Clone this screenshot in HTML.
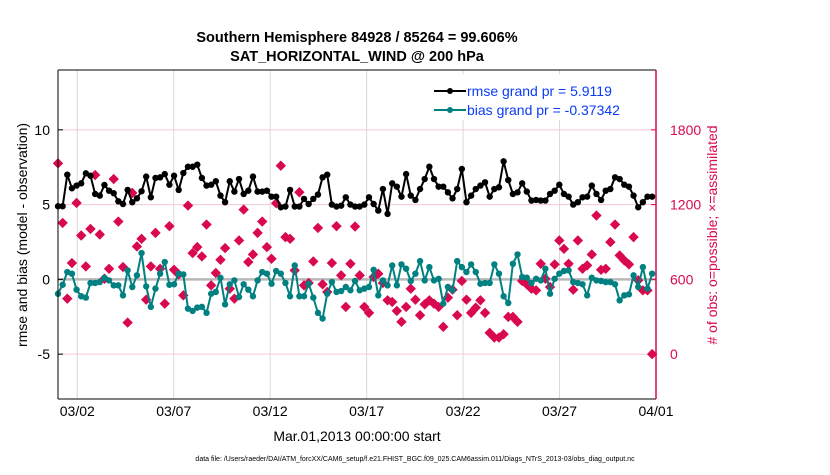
<!DOCTYPE html>
<html><head><meta charset="utf-8"><style>
body{margin:0;background:#fff;width:830px;height:470px;overflow:hidden}
svg{font-family:"Liberation Sans",sans-serif}
</style></head><body>
<svg id="chart" width="830" height="470">
<text x="357" y="42" text-anchor="middle" font-size="14.5" font-weight="bold">Southern Hemisphere 84928 / 85264 = 99.606%</text>
<text x="357" y="61" text-anchor="middle" font-size="14.5" font-weight="bold">SAT_HORIZONTAL_WIND @ 200 hPa</text>
<g id="grid"></g><g id="marks"></g><g id="axes"></g>
<text transform="translate(27,235) rotate(-90)" text-anchor="middle" font-size="14">rmse and bias (model - observation)</text>
<text transform="translate(717,235) rotate(-90)" text-anchor="middle" font-size="14" fill="#d9094f"># of obs: o=possible; ×=assimilated</text>
<text x="357" y="441" text-anchor="middle" font-size="14">Mar.01,2013 00:00:00 start</text>
<text x="415" y="461" text-anchor="middle" font-size="7">data file: /Users/raeder/DAI/ATM_forcXX/CAM6_setup/f.e21.FHIST_BGC.f09_025.CAM6assim.011/Diags_NTrS_2013-03/obs_diag_output.nc</text>
<g>
<rect x="430" y="74" width="222" height="46" fill="#fff"/>
<line x1="434" y1="91" x2="466" y2="91" stroke="#000" stroke-width="2"/><circle cx="450" cy="91" r="3" fill="#000"/>
<text x="467" y="96" font-size="14" fill="#0a3cf5">rmse grand pr = 5.9119</text>
<line x1="434" y1="110" x2="466" y2="110" stroke="#008080" stroke-width="2"/><circle cx="450" cy="110" r="3" fill="#008080"/>
<text x="467" y="115" font-size="14" fill="#0a3cf5">bias grand pr = -0.37342</text>
</g>
</svg>
<script>
const rmse=[4.89,4.89,7.0,6.09,6.27,6.42,7.09,6.93,5.71,5.6,6.31,5.93,5.76,5.22,5.04,5.98,5.16,5.42,5.89,6.87,5.49,6.78,6.82,7.04,6.33,6.93,5.98,7.11,7.53,7.53,7.67,6.78,6.27,6.33,6.56,5.6,5.16,6.56,5.87,6.71,5.71,5.93,6.87,5.87,5.87,5.93,5.53,5.53,4.82,4.87,5.98,4.87,4.87,5.38,5.04,5.38,5.67,6.82,7.0,5.0,4.87,4.93,5.49,
5.0,4.87,4.87,5.0,5.49,5.04,4.6,6.04,4.38,6.42,6.2,5.53,7.04,5.6,5.31,6.04,6.71,7.53,6.71,6.2,6.2,5.82,5.42,6.04,7.38,5.16,5.6,6.04,6.27,6.49,5.53,6.04,6.16,7.89,6.64,5.71,5.82,6.42,5.87,5.27,5.31,5.27,5.27,5.71,5.93,6.33,5.71,5.53,5.0,5.16,5.49,5.53,6.27,5.71,5.31,5.93,6.04,6.82,6.71,6.33,6.2,5.6,4.82,5.16,5.53,5.53];
const bias=[-0.96,-0.36,0.49,0.38,-0.69,-1.13,-1.22,-0.24,-0.24,-0.18,0.11,-0.07,-0.4,-0.4,-1.07,0.6,-0.51,0.27,1.76,-0.47,-1.84,-0.62,0.38,1.16,-0.36,-0.33,0.38,0.33,-1.96,-2.11,-1.89,-1.84,-2.24,-0.96,-0.84,0.11,-1.67,-0.33,-0.07,-1.18,-0.33,-0.69,-1.13,-0.07,0.49,0.38,-0.29,0.56,0.38,-0.24,-1.13,0.93,-1.13,-1.13,-0.29,-1.22,-2.24,-2.62,-0.96,-0.18,-0.84,-0.78,-0.51,
-0.73,-0.11,-0.73,-0.62,-0.51,0.64,-1.07,-0.07,-0.4,0.93,-0.4,1.0,0.71,-0.11,0.38,1.22,-0.07,0.82,-0.07,0.04,-1.62,-0.51,-0.73,1.22,0.82,0.49,1.0,0.49,-0.29,-0.24,-0.24,1.0,0.38,-1.13,-1.58,1.04,1.67,0.16,0.11,-0.24,0.04,-0.07,0.71,-0.96,0.04,0.38,0.56,0.6,-0.18,-0.24,-0.33,-1.07,0.11,-0.07,-0.11,-0.18,-0.18,-0.33,-1.4,-1.07,-1.0,0.27,-0.51,0.82,-0.62,0.38];
const obsCount=[1531,1053,445,731,1213,952,704,1005,1437,960,605,685,1405,1064,699,253,1293,864,925,437,704,973,685,405,1027,677,640,472,1192,811,859,784,1040,552,651,757,851,525,445,912,1160,739,800,973,1064,859,765,1211,1512,939,925,672,1299,552,571,744,1013,560,499,731,1027,632,379,
725,1024,632,379,331,619,645,571,432,419,347,259,379,525,437,312,400,432,405,379,219,453,517,312,587,437,331,373,432,331,171,133,133,160,299,299,259,587,560,525,512,725,605,539,720,912,845,725,517,912,685,712,800,1112,677,685,899,1040,792,752,720,939,592,512,512,0];
const xTickLabels=["03/02","03/07","03/12","03/17","03/22","03/27","04/01"];
const xTickDays=[1,6,11,16,21,26,31];
const yTicksLeft=[-5,0,5,10];
const yTicksRight=[0,600,1200,1800];

const L=58,R=656,T=70,B=399;
const X=d=>L+(d/31)*(R-L);
const Y=v=>B-(v+8)/22*(B-T);
const YR=c=>Y(c/120-5);
const dayOf=(i,n)=>i*30.8/(n-1);
const NS="http://www.w3.org/2000/svg";
function mk(tag,attrs,parent){const e=document.createElementNS(NS,tag);for(const k in attrs)e.setAttribute(k,attrs[k]);parent.appendChild(e);return e;}
const grid=document.getElementById('grid'),marks=document.getElementById('marks'),axes=document.getElementById('axes');
xTickDays.forEach((d,i)=>{
 const g=mk('line',{x1:X(d),x2:X(d),y1:T,y2:B,stroke:'#d8d8d8','stroke-width':1},grid);
 
 
 const t=mk('text',{x:X(d),y:B+17,'text-anchor':'middle','font-size':14},axes);
 t.textContent=xTickLabels[i];
 
 
});
yTicksLeft.forEach(v=>{
 if(v!==0){const g=mk('line',{x1:L,x2:R,y1:Y(v),y2:Y(v),stroke:'#f5c6d6','stroke-width':1},grid);
 
 }
 const t=mk('text',{x:L-8,y:Y(v)+5,'text-anchor':'end','font-size':14},axes);
 t.textContent=v;
 
 
 mk('line',{x1:L,x2:L+5,y1:Y(v),y2:Y(v),stroke:'#000'},axes);
});
yTicksRight.forEach(c=>{
 const t=mk('text',{x:R+14,y:YR(c)+5,'font-size':14,fill:'#d9094f'},axes);
 t.textContent=c;
 
 
 mk('line',{x1:R-5,x2:R,y1:YR(c),y2:YR(c),stroke:'#d9094f'},axes);
});
const zl=mk('line',{x1:L,x2:R,y1:Y(0),y2:Y(0),stroke:'#b8b8b8','stroke-width':2.5},grid);


obsCount.forEach((c,i)=>{
 const x=X(dayOf(i,obsCount.length)),y=YR(c),s=5.2;
 const p=mk('polygon',{points:`${x},${y-s} ${x+s},${y} ${x},${y+s} ${x-s},${y}`,fill:'#d9094f'},marks);
 
 
});
function series(arr,col,name){
 const pts=arr.map((v,i)=>[X(dayOf(i,arr.length)),Y(v)]);
 const pl=mk('polyline',{points:pts.map(p=>p.join(',')).join(' '),fill:'none',stroke:col,'stroke-width':2,'stroke-linejoin':'round'},marks);
 
 
 pts.forEach(p=>{const c=mk('circle',{cx:p[0],cy:p[1],r:3.2,fill:col},marks);
 
 });
}
series(rmse,'#000','rmse');
series(bias,'#008080','bias');
mk('line',{x1:L,x2:R,y1:T,y2:T,stroke:'#000'},axes);
mk('line',{x1:L,x2:R,y1:B,y2:B,stroke:'#000'},axes);
mk('line',{x1:L,x2:L,y1:T,y2:B,stroke:'#000'},axes);
mk('line',{x1:R,x2:R,y1:T,y2:B,stroke:'#d9094f','stroke-width':1.5},axes);
</script>
</body></html>
